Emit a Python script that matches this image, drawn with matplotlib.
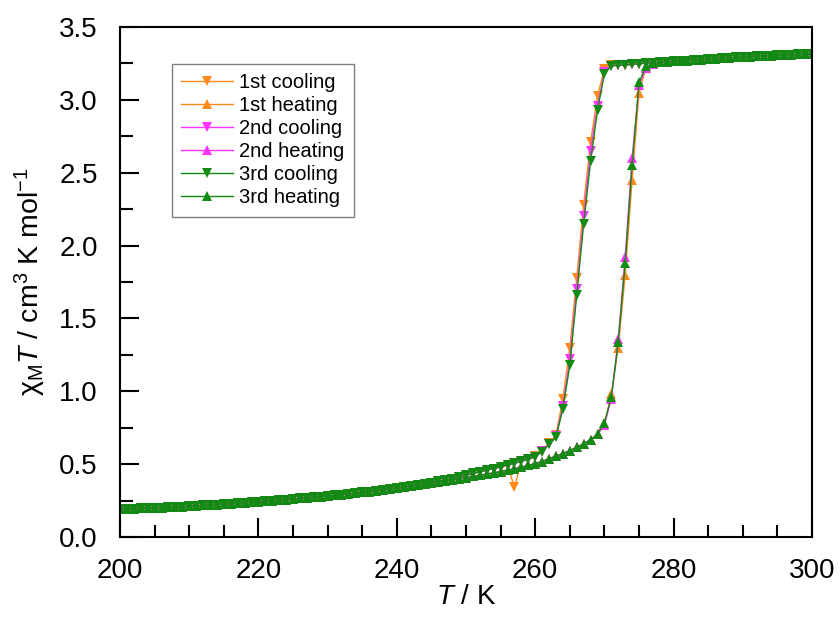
import matplotlib
matplotlib.use("Agg")
import matplotlib.pyplot as plt
from matplotlib.ticker import MultipleLocator

plt.rcParams["font.family"] = ["Liberation Sans", "DejaVu Sans"]
plt.rcParams["mathtext.fontset"] = "custom"
plt.rcParams["mathtext.rm"] = "Liberation Sans"
plt.rcParams["mathtext.it"] = "Liberation Sans:italic"

# temperature grid (K), shared by every run
TEMP_K = [
    200, 201, 202, 203, 204, 205, 206, 207, 208, 209,
    210, 211, 212, 213, 214, 215, 216, 217, 218, 219,
    220, 221, 222, 223, 224, 225, 226, 227, 228, 229,
    230, 231, 232, 233, 234, 235, 236, 237, 238, 239,
    240, 241, 242, 243, 244, 245, 246, 247, 248, 249,
    250, 251, 252, 253, 254, 255, 256, 257, 258, 259,
    260, 261, 262, 263, 264, 265, 266, 267, 268, 269,
    270, 271, 272, 273, 274, 275, 276, 277, 278, 279,
    280, 281, 282, 283, 284, 285, 286, 287, 288, 289,
    290, 291, 292, 293, 294, 295, 296, 297, 298, 299,
    300,
]

# chi_M T (cm3 K mol-1), low-spin tail 200-244 K, same for all runs
CHI_LOW = [
    0.190, 0.192, 0.194, 0.196, 0.198, 0.200, 0.202, 0.204, 0.206, 0.208,
    0.211, 0.214, 0.217, 0.220, 0.223, 0.226, 0.229, 0.232, 0.235, 0.238,
    0.241, 0.245, 0.249, 0.253, 0.257, 0.261, 0.265, 0.269, 0.273, 0.277,
    0.281, 0.286, 0.291, 0.296, 0.301, 0.306, 0.312, 0.318, 0.324, 0.330,
    0.336, 0.343, 0.350, 0.357, 0.364,
]
# cooling branch 245-256 K
COOL_BEND = [0.372, 0.381, 0.391, 0.401, 0.412, 0.424, 0.436, 0.448,
             0.459, 0.470, 0.482, 0.494]
# heating branch 245-269 K
HEAT_BEND = [0.370, 0.377, 0.384, 0.392, 0.400, 0.408, 0.416, 0.424,
             0.432, 0.440, 0.449, 0.458, 0.468, 0.479, 0.491, 0.504,
             0.518, 0.538, 0.555, 0.573, 0.593, 0.615, 0.640, 0.668, 0.705]

# cooling transitions 257-271 K
COOL_STEP_1 = [0.340, 0.521, 0.536, 0.553, 0.590, 0.645, 0.700, 0.950,
               1.300, 1.780, 2.280, 2.710, 3.030, 3.210, 3.240]
COOL_STEP_2 = [0.507, 0.520, 0.535, 0.552, 0.588, 0.640, 0.690, 0.900,
               1.220, 1.700, 2.200, 2.650, 2.960, 3.190, 3.235]
COOL_STEP_3 = [0.506, 0.519, 0.534, 0.551, 0.586, 0.635, 0.685, 0.880,
               1.180, 1.660, 2.150, 2.580, 2.930, 3.180, 3.235]

# heating transitions 270-277 K
HEAT_STEP_1 = [0.775, 0.980, 1.300, 1.800, 2.450, 3.050, 3.220, 3.245]
HEAT_STEP_2 = [0.770, 0.950, 1.360, 1.920, 2.600, 3.100, 3.220, 3.245]
HEAT_STEP_3 = [0.785, 0.960, 1.340, 1.880, 2.550, 3.120, 3.230, 3.250]

# high-spin plateau 272-300 K
CHI_HIGH = [
    3.236, 3.240, 3.244, 3.248, 3.252, 3.255, 3.258, 3.261, 3.264, 3.267,
    3.270, 3.273, 3.276, 3.279, 3.282, 3.285, 3.288, 3.291, 3.294, 3.297,
    3.300, 3.302, 3.304, 3.306, 3.308, 3.310, 3.312, 3.314, 3.316,
]

LABELS = ["1st cooling", "1st heating", "2nd cooling", "2nd heating",
          "3rd cooling", "3rd heating"]
COLORS = ["#ff8a1c", "#ff8a1c", "#ff33ff", "#ff33ff", "#138a13", "#138a13"]

series = [
    CHI_LOW + COOL_BEND + COOL_STEP_1 + CHI_HIGH,
    CHI_LOW + HEAT_BEND + HEAT_STEP_1 + CHI_HIGH[6:],
    CHI_LOW + COOL_BEND + COOL_STEP_2 + CHI_HIGH,
    CHI_LOW + HEAT_BEND + HEAT_STEP_2 + CHI_HIGH[6:],
    CHI_LOW + COOL_BEND + COOL_STEP_3 + CHI_HIGH,
    CHI_LOW + HEAT_BEND + HEAT_STEP_3 + CHI_HIGH[6:],
]

fig = plt.figure(figsize=(8.4, 6.24), dpi=100)
ax = fig.add_axes([0.1429, 0.1394, 0.8238, 0.8173])

for i, (chi, label, color) in enumerate(zip(series, LABELS, COLORS)):
    marker = "v" if "cooling" in label else "^"
    ax.plot(TEMP_K, chi, color=color, marker=marker, markersize=7.5,
            markeredgewidth=0, linewidth=1.0, label=label)

ax.set_xlim(200, 300)
ax.set_ylim(0, 3.5)
ax.xaxis.set_major_locator(MultipleLocator(20))
ax.xaxis.set_minor_locator(MultipleLocator(5))
ax.yaxis.set_major_locator(MultipleLocator(0.5))
ax.yaxis.set_minor_locator(MultipleLocator(0.25))
ax.yaxis.set_major_formatter(matplotlib.ticker.FormatStrFormatter("%.1f"))

ax.tick_params(which="both", direction="in", width=1.5, top=False, right=False,
               labelsize=20)
ax.tick_params(which="major", length=14)
ax.tick_params(which="minor", length=9)
ax.tick_params(axis="x", pad=15)
ax.tick_params(axis="y", pad=16)
for sp in ax.spines.values():
    sp.set_linewidth(1.5)

ax.set_xlabel("$T$ / K", fontsize=20, labelpad=0)
ax.set_ylabel("χ$_\\mathrm{M}$$T$ / cm$^3$ K mol$^{-1}$", fontsize=20.5, labelpad=8)

leg = ax.legend(loc="upper left", bbox_to_anchor=(0.075, 0.927), borderaxespad=0,
                fontsize=14.5, handlelength=2.6, labelspacing=0.2,
                fancybox=False, framealpha=1, edgecolor="#808080",
                borderpad=0.45, handletextpad=0.3)
leg.get_frame().set_linewidth(1.0)

fig.savefig("out.png", dpi=100)
